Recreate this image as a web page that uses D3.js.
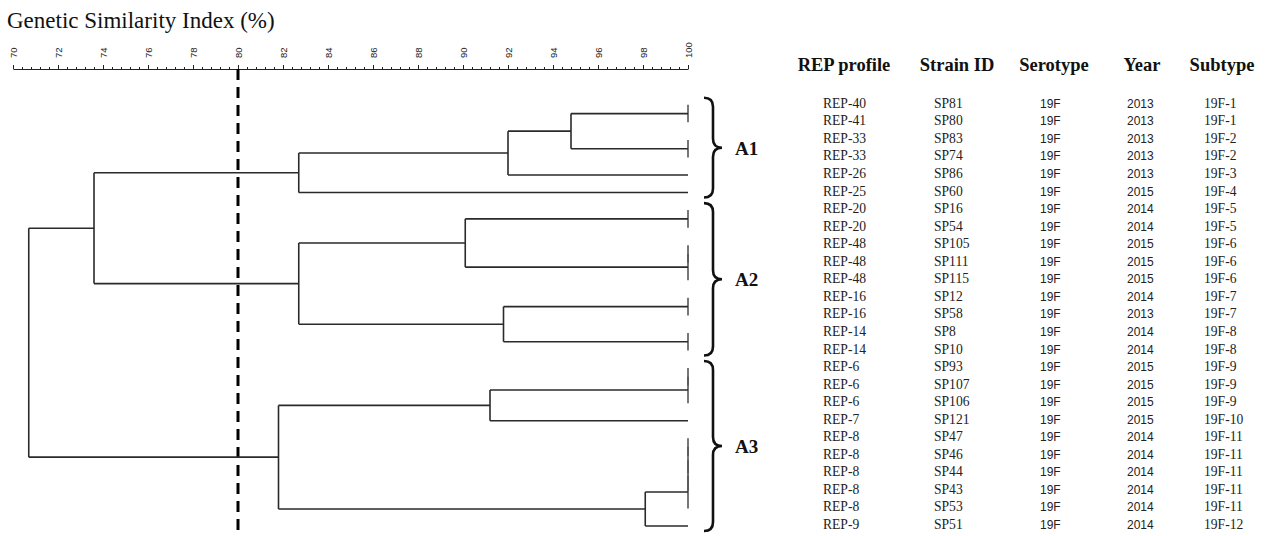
<!DOCTYPE html>
<html>
<head>
<meta charset="utf-8">
<script src="https://cdn.jsdelivr.net/npm/d3@7"></script>
<style>
  html, body { margin: 0; padding: 0; background: #fff; }
  svg { display: block; }
</style>
</head>
<body>
<svg id="chart" width="1267" height="536"></svg>
<script>
// Strain table, in dendrogram leaf order (top to bottom)
const repProfiles = ["REP-40","REP-41","REP-33","REP-33","REP-26","REP-25","REP-20","REP-20","REP-48","REP-48","REP-48","REP-16","REP-16","REP-14","REP-14","REP-6","REP-6","REP-6","REP-7","REP-8","REP-8","REP-8","REP-8","REP-8","REP-9"];
const strainIds   = ["SP81","SP80","SP83","SP74","SP86","SP60","SP16","SP54","SP105","SP111","SP115","SP12","SP58","SP8","SP10","SP93","SP107","SP106","SP121","SP47","SP46","SP44","SP43","SP53","SP51"];
const serotypes   = ["19F","19F","19F","19F","19F","19F","19F","19F","19F","19F","19F","19F","19F","19F","19F","19F","19F","19F","19F","19F","19F","19F","19F","19F","19F"];
const years       = ["2013","2013","2013","2013","2013","2015","2014","2014","2015","2015","2015","2014","2013","2014","2014","2015","2015","2015","2015","2014","2014","2014","2014","2014","2014"];
const subtypes    = ["19F-1","19F-1","19F-2","19F-2","19F-3","19F-4","19F-5","19F-5","19F-6","19F-6","19F-6","19F-7","19F-7","19F-8","19F-8","19F-9","19F-9","19F-9","19F-10","19F-11","19F-11","19F-11","19F-11","19F-11","19F-12"];

// Linkage: [node, left child, right child, similarity %]
const merges = [
  ["m1",  "SP81",  "SP80",  100],
  ["m2",  "SP83",  "SP74",  100],
  ["m3",  "m1",    "m2",    94.8],
  ["m4",  "m3",    "SP86",  92.0],
  ["A1",  "m4",    "SP60",  82.7],
  ["m5",  "SP16",  "SP54",  100],
  ["m6",  "SP105", "SP111", 100],
  ["m7",  "m6",    "SP115", 100],
  ["m8",  "m5",    "m7",    90.1],
  ["m9",  "SP12",  "SP58",  100],
  ["m10", "SP8",   "SP10",  100],
  ["m11", "m9",    "m10",   91.8],
  ["A2",  "m8",    "m11",   82.7],
  ["A12", "A1",    "A2",    73.6],
  ["m12", "SP93",  "SP107", 100],
  ["m13", "m12",   "SP106", 100],
  ["m14", "m13",   "SP121", 91.2],
  ["m15", "SP47",  "SP46",  100],
  ["m16", "m15",   "SP44",  100],
  ["m17", "m16",   "SP43",  100],
  ["m18", "m17",   "SP53",  100],
  ["m19", "m18",   "SP51",  98.1],
  ["A3",  "m14",   "m19",   81.8],
  ["root","A12",   "A3",    70.7]
];

// Axis ticks and cut-off
const majorTicks = [70,72,74,76,78,80,82,84,86,88,90,92,94,96,98,100];
const cutoff = 80;

// Cluster brackets
const clusterNames = ["A1","A2","A3"];
const clusterFirst = ["SP81","SP16","SP93"];
const clusterLast  = ["SP60","SP10","SP51"];

// Table header
const headers = ["REP profile","Strain ID","Serotype","Year","Subtype"];

const svg = d3.select("#chart");

const x = d3.scaleLinear().domain([70, 100]).range([13, 688]);
const row = d3.scaleLinear().domain([0, strainIds.length - 1]).range([104.8, 526]);

// Title
svg.append("text")
  .attr("x", 7).attr("y", 28)
  .attr("font-family", "'Liberation Serif', 'Times New Roman', serif")
  .attr("font-size", 23)
  .attr("fill", "#111")
  .text("Genetic Similarity Index (%)");

// Axis: minor ticks every 0.4 %, major every 2 %
const axisY = 69;
const minorTicks = d3.range(0, 76).map(i => 70 + i * 0.4).filter(v => v <= 100.001);
svg.append("g")
  .attr("transform", `translate(0,${axisY})`)
  .call(d3.axisTop(x).tickValues(minorTicks).tickSize(2).tickSizeOuter(0).tickFormat(""))
  .call(g => g.select(".domain").attr("stroke", "#222").attr("stroke-width", 1))
  .call(g => g.selectAll(".tick line").attr("stroke", "#222"));

svg.append("g")
  .attr("transform", `translate(0,${axisY})`)
  .call(d3.axisTop(x).tickValues(majorTicks).tickSize(4).tickSizeOuter(0).tickFormat(d3.format("d")))
  .call(g => g.select(".domain").remove())
  .call(g => g.selectAll(".tick line").attr("stroke", "#222"))
  .call(g => g.selectAll(".tick text")
    .attr("font-family", "'Liberation Sans', Arial, sans-serif")
    .attr("font-size", 9.5)
    .attr("fill", "#222")
    .attr("transform", "rotate(-90)")
    .attr("text-anchor", "start")
    .attr("x", 11).attr("y", 0).attr("dy", "0.35em"));

// 80 % cut-off line
svg.append("line")
  .attr("x1", x(cutoff)).attr("x2", x(cutoff))
  .attr("y1", axisY).attr("y2", 536)
  .attr("stroke", "#000").attr("stroke-width", 3)
  .attr("stroke-dasharray", "11,7");

// Build the dendrogram from the linkage list
const nodes = new Map();
strainIds.forEach((id, i) => nodes.set(id, { id, sim: 100, y: row(i), leaf: true }));
merges.forEach(([id, a, b, sim]) => {
  const l = nodes.get(a), r = nodes.get(b);
  nodes.set(id, { id, sim, left: l, right: r, y: (l.y + r.y) / 2, leaf: false });
});

const links = svg.append("g")
  .attr("fill", "none")
  .attr("stroke", "#2a2a2a")
  .attr("stroke-width", 1.6);

merges.forEach(([id]) => {
  const n = nodes.get(id);
  const xn = x(n.sim);
  // vertical joining the two children
  links.append("line")
    .attr("x1", xn).attr("x2", xn)
    .attr("y1", n.left.y).attr("y2", n.right.y)
    .attr("stroke", n.sim === 100 ? "#555" : "#2a2a2a");
  // horizontals out to each child
  [n.left, n.right].forEach(c => {
    const xc = x(c.sim);
    if (xc > xn) {
      links.append("line")
        .attr("x1", xn).attr("x2", xc)
        .attr("y1", c.y).attr("y2", c.y);
    }
  });
});

// Cluster brackets and labels
function bracePath(x0, x1, ya, yb) {
  const xm = (x0 + x1) / 2, ym = (ya + yb) / 2, r = 9;
  return `M${x0},${ya} Q${xm},${ya} ${xm},${ya + r} L${xm},${ym - r} Q${xm},${ym} ${x1},${ym}` +
         ` Q${xm},${ym} ${xm},${ym + r} L${xm},${yb - r} Q${xm},${yb} ${x0},${yb}`;
}
clusterNames.forEach((name, i) => {
  const ya = row(strainIds.indexOf(clusterFirst[i])) - 7;
  const yb = row(strainIds.indexOf(clusterLast[i])) + 5;
  svg.append("path")
    .attr("d", bracePath(704, 722, ya, yb))
    .attr("fill", "none").attr("stroke", "#111").attr("stroke-width", 2.6);
  svg.append("text")
    .attr("x", 735).attr("y", (ya + yb) / 2 + 7)
    .attr("font-family", "'Liberation Serif', 'Times New Roman', serif")
    .attr("font-weight", "bold").attr("font-size", 19)
    .attr("fill", "#111")
    .text(name);
});

// Table
const headerX = [844, 957, 1054, 1142, 1222];
svg.append("g").selectAll("text").data(headers).join("text")
  .attr("x", (d, i) => headerX[i]).attr("y", 71)
  .attr("text-anchor", "middle")
  .attr("font-family", "'Liberation Serif', 'Times New Roman', serif")
  .attr("font-weight", "bold").attr("font-size", 18.5)
  .attr("fill", "#111")
  .text(d => d);

const columns = [
  { values: repProfiles, x: 823,  font: "'Liberation Serif', 'Times New Roman', serif", size: 13.6 },
  { values: strainIds,   x: 934,  font: "'Liberation Serif', 'Times New Roman', serif", size: 13.6 },
  { values: serotypes,   x: 1040, font: "'Liberation Sans', Arial, sans-serif", size: 12 },
  { values: years,       x: 1127, font: "'Liberation Sans', Arial, sans-serif", size: 12 },
  { values: subtypes,    x: 1204, font: "'Liberation Serif', 'Times New Roman', serif", size: 13.6 }
];
columns.forEach(col => {
  svg.append("g").selectAll("text").data(col.values).join("text")
    .attr("x", col.x)
    .attr("y", (d, i) => row(i) + 3)
    .attr("font-family", col.font)
    .attr("font-size", col.size)
    .attr("fill", "#222")
    .text(d => d);
});
</script>
</body>
</html>
